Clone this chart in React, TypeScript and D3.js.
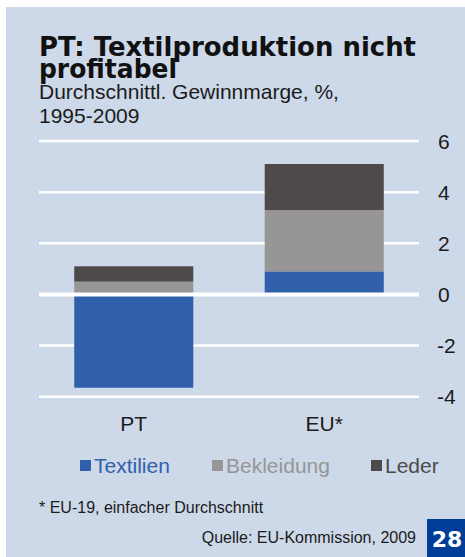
import React, { useRef, useEffect } from 'react';
import * as d3 from 'd3';

const categories = ['PT', 'EU*'];
const seriesNames = ['Textilien', 'Bekleidung', 'Leder'];
const textilien = [-3.65, 0.9];
const bekleidung = [0.5, 2.4];
const leder = [0.6, 1.8];
const yTicks = [-4, -2, 0, 2, 4, 6];

const colors: Record<string, string> = {
  Textilien: '#3160ab',
  Bekleidung: '#979694',
  Leder: '#4d4a49',
};

const W = 465;
const H = 557;

export default function App() {
  const ref = useRef<SVGSVGElement>(null);

  useEffect(() => {
    const svg = d3.select(ref.current);
    svg.selectAll('*').remove();

    const sans = 'Liberation Sans, Arial, sans-serif';
    const ink = '#1b1b1b';
    const fs = 21;

    // panel
    svg.append('rect').attr('x', 6).attr('y', 7).attr('width', W - 6).attr('height', H - 7).attr('fill', '#cdd8e9');

    // title
    const title = svg.append('text')
      .attr('font-family', 'DejaVu Sans, sans-serif')
      .attr('font-weight', 'bold')
      .attr('font-size', 27)
      .attr('fill', '#111');
    title.append('tspan').attr('x', 39).attr('y', 56).attr('textLength', 377).attr('lengthAdjust', 'spacingAndGlyphs').text('PT: Textilproduktion nicht');
    title.append('tspan').attr('x', 39).attr('y', 78).attr('textLength', 138).attr('lengthAdjust', 'spacingAndGlyphs').text('profitabel');

    const sub = svg.append('text').attr('font-family', sans).attr('font-size', fs).attr('fill', ink);
    sub.append('tspan').attr('x', 39).attr('y', 99).text('Durchschnittl. Gewinnmarge, %,');
    sub.append('tspan').attr('x', 39).attr('y', 123).text('1995-2009');

    const y = d3.scaleLinear().domain([-4, 6]).range([396.7, 141]);
    const x = d3.scaleBand<string>().domain(categories).range([39, 419]).paddingInner(0.375).paddingOuter(0.185);

    // gridlines
    svg.append('g').selectAll('line').data(yTicks.filter(t => t !== 0)).enter().append('line')
      .attr('x1', 39).attr('x2', 419)
      .attr('y1', d => y(d)).attr('y2', d => y(d))
      .attr('stroke', '#fff').attr('stroke-width', 2.5);

    // stacked bars
    const table = categories.map((c, i) => ({
      cat: c,
      Textilien: textilien[i],
      Bekleidung: bekleidung[i],
      Leder: leder[i],
    }));
    const stacked = d3.stack<any>().keys(seriesNames).offset(d3.stackOffsetDiverging)(table);

    svg.append('g').selectAll('g').data(stacked).enter().append('g')
      .attr('fill', d => colors[d.key])
      .selectAll('rect').data(d => d).enter().append('rect')
      .attr('x', d => x(d.data.cat)!)
      .attr('width', x.bandwidth())
      .attr('y', d => y(Math.max(d[0], d[1])))
      .attr('height', d => Math.abs(y(d[0]) - y(d[1])));

    // zero line on top
    svg.append('line').attr('x1', 39).attr('x2', 419).attr('y1', y(0)).attr('y2', y(0))
      .attr('stroke', '#fff').attr('stroke-width', 4);

    // y tick labels
    svg.append('g').selectAll('text').data(yTicks).enter().append('text')
      .attr('x', d => (d < 0 ? 437 : 438))
      .attr('y', d => y(d) + 7.5)
      .attr('font-family', sans).attr('font-size', fs).attr('fill', ink)
      .text(d => String(d));

    // x labels
    svg.append('g').selectAll('text').data(categories).enter().append('text')
      .attr('x', d => x(d)! + x.bandwidth() / 2)
      .attr('y', 431)
      .attr('text-anchor', 'middle')
      .attr('font-family', sans).attr('font-size', fs).attr('fill', ink)
      .text(d => d);

    // legend
    const legendX = [80, 212, 371];
    const lg = svg.append('g').selectAll('g').data(seriesNames).enter().append('g')
      .attr('transform', (d, i) => `translate(${legendX[i]},0)`);
    lg.append('rect').attr('x', 0).attr('y', 460).attr('width', 11).attr('height', 11).attr('fill', d => colors[d]);
    lg.append('text').attr('x', 14).attr('y', 473)
      .attr('font-family', sans).attr('font-size', fs)
      .attr('fill', d => colors[d])
      .text(d => d);

    svg.append('text').attr('x', 39).attr('y', 512.5)
      .attr('font-family', sans).attr('font-size', 16).attr('fill', ink)
      .text('* EU-19, einfacher Durchschnitt');

    svg.append('text').attr('x', 416).attr('y', 542.5).attr('text-anchor', 'end')
      .attr('font-family', sans).attr('font-size', 16).attr('fill', ink)
      .text('Quelle: EU-Kommission, 2009');

    svg.append('rect').attr('x', 427).attr('y', 519).attr('width', W - 427).attr('height', H - 519).attr('fill', '#003d99');
    svg.append('text').attr('x', 447).attr('y', 547).attr('text-anchor', 'middle')
      .attr('font-family', 'DejaVu Sans, sans-serif').attr('font-weight', 'bold').attr('font-size', 22)
      .attr('fill', '#fff').text('28');
  }, []);

  return (
    <svg ref={ref} width={W} height={H} style={{ position: 'absolute', left: 0, top: 0, background: '#fff' }} />
  );
}
